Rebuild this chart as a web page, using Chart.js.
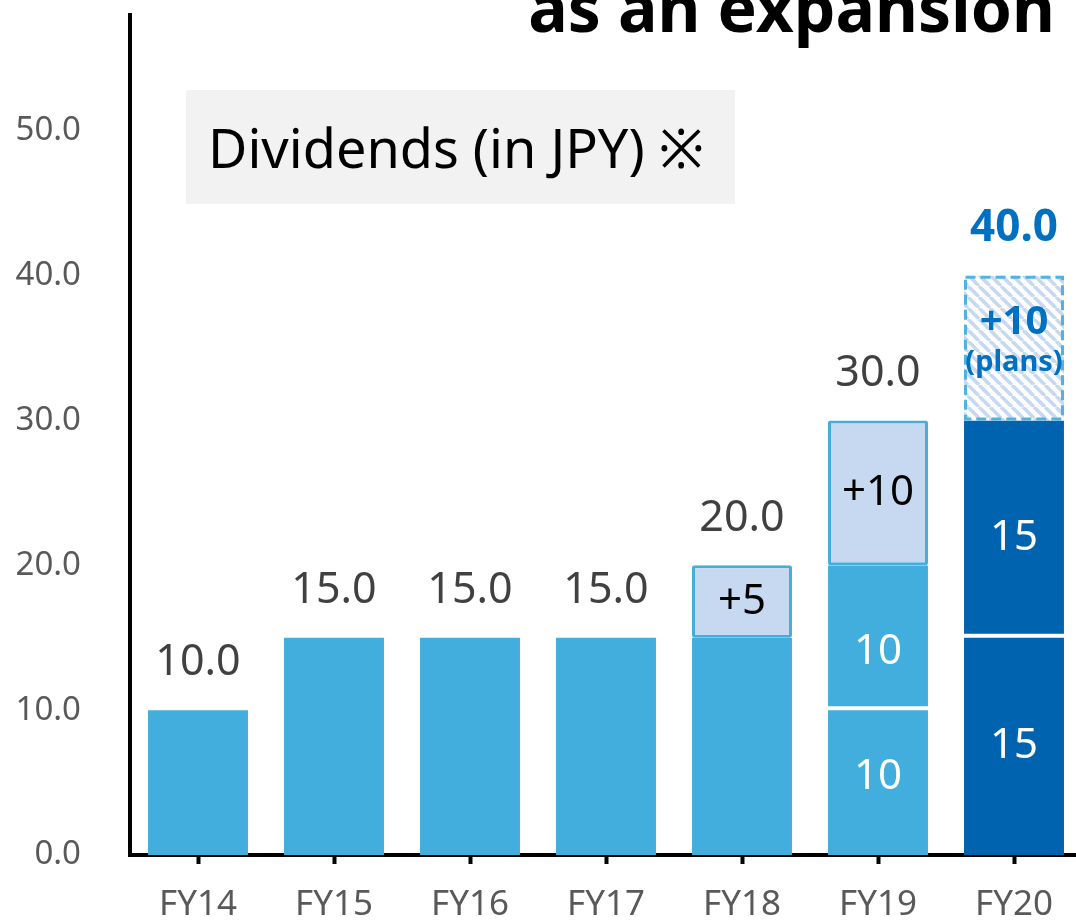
<!DOCTYPE html>
<html>
<head>
<meta charset="utf-8">
<script src="https://cdn.jsdelivr.net/npm/chart.js@4/dist/chart.umd.min.js"></script>
<style>
  html, body { margin: 0; padding: 0; background: #fff; }
  #wrap { position: relative; width: 1076px; height: 923px; overflow: hidden; font-family: "Noto Sans", sans-serif; }
  #chart { position: absolute; left: 0; top: 0; }
  .title { position: absolute; right: 21px; top: -39px; font-size: 66px; font-weight: bold; color: #000; white-space: nowrap; }
  .note { position: absolute; left: 186px; top: 90px; width: 549px; height: 114px; background: #f2f2f2;
          font-size: 54px; line-height: 114px; color: #000; box-sizing: border-box; padding-left: 22px; white-space: nowrap; }
</style>
</head>
<body>
<div id="wrap">
  <div class="note">Dividends (in JPY) ※</div>
  <canvas id="chart" width="1082" height="923"></canvas>
  <div class="title">as an expansion</div>
</div>
<script>
// fiscal years and dividend pieces (JPY)
const categories = ['FY14', 'FY15', 'FY16', 'FY17', 'FY18', 'FY19', 'FY20'];
const baseValues = [10, 15, 15, 15, 15, 10, null];
const secondValues = [null, null, null, null, null, 10, null];
const darkLower = [null, null, null, null, null, null, 15];
const darkUpper = [null, null, null, null, null, null, 15];
const increaseValues = [null, null, null, null, 5, 10, null];
const planValues = [null, null, null, null, null, null, 10];
const totals = [10, 15, 15, 15, 20, 30, 40];
const totalLabels = ['10.0', '15.0', '15.0', '15.0', '20.0', '30.0', '40.0'];
const yTicks = [0, 10, 20, 30, 40, 50];

const LIGHT = '#42aedd';
const DARK = '#0063af';
const PALE = '#c6d9f0';
const BLUE_TEXT = '#0070c0';
const FONT = '"Noto Sans", sans-serif';

// diagonal hatching for the planned part
function hatch() {
    var s = 11;
    var c = document.createElement('canvas');
    c.width = s; c.height = s;
    var g = c.getContext('2d');
    g.fillStyle = '#fff';
    g.fillRect(0, 0, s, s);
    g.strokeStyle = PALE;
    g.lineWidth = 3.5;
    for (var k = -1; k <= 1; k++) {
        g.beginPath();
        g.moveTo(k * s, 0);
        g.lineTo(k * s + s, s);
        g.stroke();
    }
    return document.getElementById('chart').getContext('2d').createPattern(c, 'repeat');
}

var barLabels = {
    id: 'barLabels',
    afterDatasetsDraw: function (chart) {
        var ctx = chart.ctx;
        var y = chart.scales.y;
        ctx.save();
        ctx.textAlign = 'center';
        ctx.textBaseline = 'middle';
        chart.data.datasets.forEach(function (ds, di) {
            var meta = chart.getDatasetMeta(di);
            if (ds.dashed) {
                meta.data.forEach(function (el, i) {
                    if (ds.data[i] == null) return;
                    ctx.save();
                    ctx.setLineDash([10, 5]);
                    ctx.lineWidth = 3;
                    ctx.strokeStyle = '#4db3e4';
                    ctx.strokeRect(el.x - el.width / 2 + 1.5, el.y + 1.5, el.width - 3, el.base - el.y - 3);
                    ctx.restore();
                });
            }
            if (!ds.inLabels) return;
            meta.data.forEach(function (el, i) {
                var txt = ds.inLabels[i];
                if (!txt) return;
                var mid = (el.y + el.base) / 2 + (ds.labelShift || 0);
                ctx.fillStyle = ds.labelColor;
                if (Array.isArray(txt)) {
                    ctx.font = 'bold 40px ' + FONT;
                    ctx.fillText(txt[0], el.x, mid - 25);
                    ctx.font = 'bold 29px ' + FONT;
                    ctx.fillText(txt[1], el.x, mid + 15);
                } else {
                    ctx.font = '42px ' + FONT;
                    ctx.fillText(txt, el.x, mid);
                }
            });
        });
        // totals above each column
        var xs = chart.scales.x;
        totals.forEach(function (v, i) {
            var last = i === totals.length - 1;
            ctx.font = (last ? 'bold 44px ' : '43px ') + FONT;
            ctx.fillStyle = last ? BLUE_TEXT : '#404040';
            ctx.fillText(totalLabels[i], xs.getPixelForValue(i), y.getPixelForValue(v) - 47);
        });
        ctx.restore();
    }
};

var chart = new Chart(document.getElementById('chart'), {
    type: 'bar',
    data: {
        labels: categories,
        datasets: [
            { data: baseValues, backgroundColor: LIGHT,
              inLabels: [null, null, null, null, null, '10', null], labelColor: '#fff', labelShift: -6 },
            { data: secondValues, backgroundColor: LIGHT, borderColor: '#fff',
              borderWidth: { top: 0, left: 0, right: 0, bottom: 4 }, borderSkipped: false,
              inLabels: [null, null, null, null, null, '10', null], labelColor: '#fff', labelShift: 14 },
            { data: darkLower, backgroundColor: DARK,
              inLabels: [null, null, null, null, null, null, '15'], labelColor: '#fff' },
            { data: darkUpper, backgroundColor: DARK, borderColor: '#fff',
              borderWidth: { top: 0, left: 0, right: 0, bottom: 4 }, borderSkipped: false,
              inLabels: [null, null, null, null, null, null, '15'], labelColor: '#fff', labelShift: 9 },
            { data: increaseValues, backgroundColor: PALE, borderColor: LIGHT,
              borderWidth: 3, borderSkipped: false, borderRadius: 2,
              inLabels: [null, null, null, null, '+5', '+10', null], labelColor: '#000' },
            { data: planValues, backgroundColor: hatch(), dashed: true,
              inLabels: [null, null, null, null, null, null, ['+10', '(plans)']], labelColor: BLUE_TEXT }
        ]
    },
    options: {
        responsive: false,
        animation: false,
        layout: { padding: { top: 15, left: 0, right: 0, bottom: 0 } },
        plugins: { legend: { display: false }, tooltip: { enabled: false } },
        datasets: { bar: { barPercentage: 0.735, categoryPercentage: 1 } },
        scales: {
            x: {
                stacked: true,
                grid: { display: true, drawOnChartArea: false, offset: false, tickLength: 9,
                        tickColor: '#000', tickWidth: 4 },
                border: { display: true, color: '#000', width: 4 },
                ticks: { color: '#595959', font: { family: FONT, size: 35 }, padding: 20 },
                afterFit: function (s) { s.height = 68; }
            },
            y: {
                stacked: true,
                min: 0, max: 58,
                afterBuildTicks: function (s) { s.ticks = yTicks.map(function (v) { return { value: v }; }); },
                grid: { display: false },
                border: { display: true, color: '#000', width: 4 },
                ticks: { color: '#595959', font: { family: FONT, size: 33 }, padding: 41,
                         callback: function (v) { return Number(v).toFixed(1); } },
                afterFit: function (s) { s.width = 130; s.paddingTop = 0; s.paddingBottom = 0; }
            }
        }
    },
    plugins: [barLabels]
});
</script>
</body>
</html>
